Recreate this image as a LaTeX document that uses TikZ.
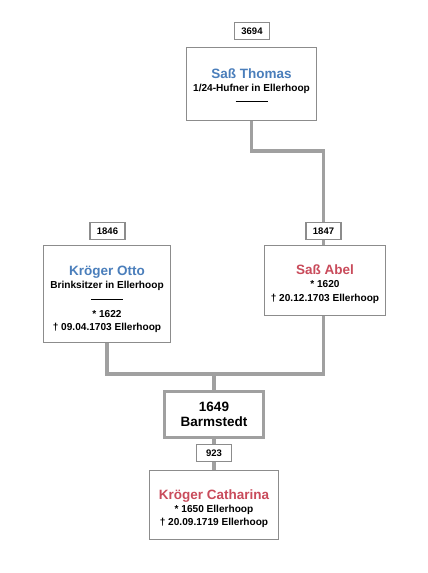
\documentclass[tikz,border=0pt]{standalone}
\usepackage{fontspec}
\setmainfont{Liberation Sans}
\definecolor{tblue}{HTML}{4A7EBB}
\definecolor{tred}{HTML}{C94B5B}
\definecolor{boxgray}{HTML}{8C8C8C}
\definecolor{linegray}{HTML}{A0A0A0}
\newcommand{\nmfont}{\fontsize{13.5}{15}\selectfont}
\newcommand{\shortrule}{\rule[3pt]{32pt}{0.6pt}}
\tikzset{
  person/.style={draw=boxgray, line width=1.2pt, fill=white, inner sep=0pt},
  ptext/.style={inner sep=0pt, align=center,
    font=\bfseries\fontsize{10.1}{13.3}\selectfont},
  numbox/.style={draw=boxgray, line width=1.2pt, fill=white, inner sep=0pt,
    minimum width=35pt, minimum height=16.5pt, font=\bfseries\fontsize{9.5}{11}\selectfont},
  marriage/.style={draw=linegray, line width=3pt, fill=white, inner sep=0pt, align=center,
    font=\bfseries\fontsize{13.5}{15.5}\selectfont},
  conn/.style={draw=linegray, line width=3.5pt},
}
\begin{document}
\begin{tikzpicture}[x=1pt,y=-1pt]
\useasboundingbox (0,0) rectangle (428,573);
% connectors
\coordinate (tdown) at (251.5,151);
\coordinate (adown) at (323.5,151);
\coordinate (ol) at (107,374);
\coordinate (or) at (323.5,374);
\coordinate (om) at (214,374);
\draw[conn] (251.5,121) -- (tdown) -- (adown) -- (323.5,223);
\draw[conn] (323.5,238) -- (323.5,246);
\draw[conn] (107,342) -- (ol) -- (or) -- (323.5,315);
\draw[conn] (om) -- (214,392);
\draw[conn] (214,438) -- (214,471);
% boxes
\node[numbox] (n3694) at (252,31) {3694};
\node[person, minimum width=130pt, minimum height=73pt] (thomas) at (251.5,84) {};
\node[ptext] (thomastext) at ([yshift=-2.5pt]thomas.center)
  {{\nmfont\color{tblue}Saß Thomas}\\1/24-Hufner in Ellerhoop\\\shortrule};
\node[numbox] (n1846) at (107.5,231) {1846};
\node[person, minimum width=127pt, minimum height=97pt] (otto) at (107,294) {};
\node[ptext] (ottotext) at ([yshift=-5.5pt]otto.center)
  {{\nmfont\color{tblue}Kröger Otto}\\Brinksitzer in Ellerhoop\\\shortrule\\[2pt]* 1622\\† 09.04.1703 Ellerhoop};
\node[numbox] (n1847) at (323.5,231) {1847};
\node[person, minimum width=121pt, minimum height=70pt] (abel) at (325,280.5) {};
\node[ptext] (abeltext) at ([yshift=-3.5pt]abel.center)
  {{\nmfont\color{tred}Saß Abel}\\* 1620\\† 20.12.1703 Ellerhoop};
\node[marriage, minimum width=99pt, minimum height=46pt] (barm) at (214,414.5)
  {1649\\Barmstedt};
\node[numbox] (n923) at (214,453) {923};
\node[person, minimum width=129pt, minimum height=69pt] (cath) at (214,505) {};
\node[ptext] (cathtext) at ([yshift=-3.5pt]cath.center)
  {{\nmfont\color{tred}Kröger Catharina}\\* 1650 Ellerhoop\\† 20.09.1719 Ellerhoop};
\end{tikzpicture}
\end{document}
